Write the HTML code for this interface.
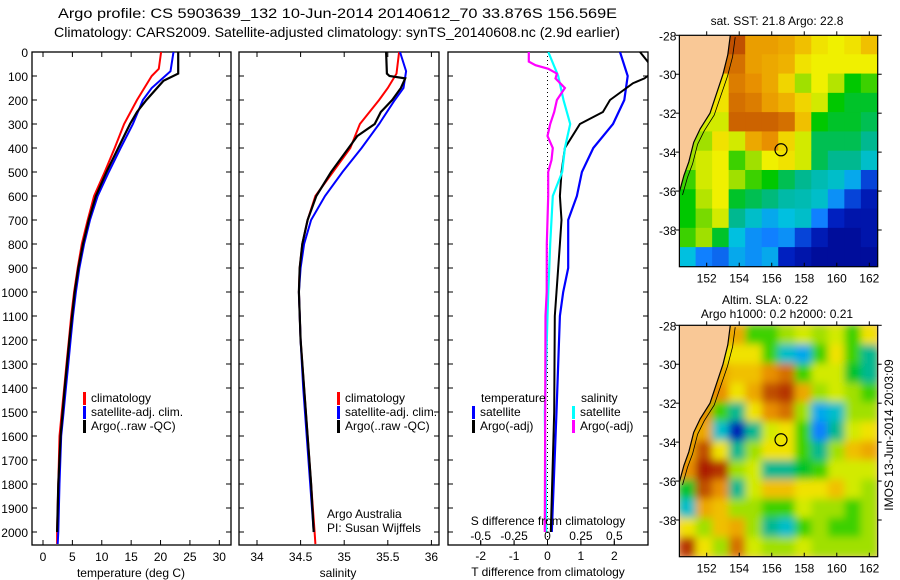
<!DOCTYPE html>
<html><head><meta charset="utf-8"><style>
html,body{margin:0;padding:0;background:#fff;}
svg{display:block;font-family:"Liberation Sans",sans-serif;}
</style></head><body>
<svg id="fig" width="900" height="580" viewBox="0 0 900 580">
<defs>
<clipPath id="c1"><rect x="32" y="52" width="199" height="493"/></clipPath>
<clipPath id="c2"><rect x="239" y="52" width="200" height="493"/></clipPath>
<clipPath id="c3"><rect x="448" y="52" width="200" height="493"/></clipPath>
<clipPath id="cm1"><rect x="680" y="35" width="198" height="232"/></clipPath>
<clipPath id="cm2"><rect x="680" y="325" width="198" height="232"/></clipPath>
<filter id="bl"><feGaussianBlur stdDeviation="4"/></filter>
</defs>
<text x="58" y="18" font-size="14" textLength="559" lengthAdjust="spacingAndGlyphs">Argo profile: CS 5903639_132 10-Jun-2014 20140612_70 33.876S 156.569E</text>
<text x="54" y="37" font-size="14" textLength="566" lengthAdjust="spacingAndGlyphs">Climatology: CARS2009. Satellite-adjusted climatology: synTS_20140608.nc (2.9d earlier)</text>
<g id="g1"></g>
<g id="g2"></g>
<g id="g3"></g>
<g id="m1"></g>
<g id="m2"></g>
<text transform="translate(893,435) rotate(-90)" text-anchor="middle" font-size="12">IMOS 13-Jun-2014 20:03:09</text>
</svg>
<script>
// ---- data ----
const depthTicks=[0,100,200,300,400,500,600,700,800,900,1000,1100,1200,1300,1400,1500,1600,1700,1800,1900,2000];
const tempTicks=[0,5,10,15,20,25,30];
const salTicks=[34,34.5,35,35.5,36];
const tdiffTicks=[-2,-1,0,1,2];
const sdiffTicks=[-0.5,-0.25,0,0.25,0.5];
const sdiffLabels=["-0.5","-0.25","0","0.25","0.5"];
const climTD=[0,70,100,200,300,400,500,600,700,800,900,1000,1100,1200,1300,1400,1500,1600,1800,2000,2050];
const climT=[20.1,19.7,18.5,16,13.8,12.2,10.5,8.7,7.6,6.6,5.9,5.3,4.8,4.4,4.0,3.6,3.2,2.8,2.6,2.4,2.4];
const satTD=[0,80,150,200,300,400,500,600,700,800,900,1000,1100,1200,1300,1400,1500,1600,1800,2000,2050];
const satT=[22.2,21.7,18.5,17,15.3,13.2,11.2,9.3,8,7,6.2,5.6,5.1,4.7,4.3,3.9,3.5,3.1,2.8,2.6,2.5];
const argoTD=[0,90,120,200,250,300,400,500,600,700,800,900,1000,1200,1400,1600,1800,2000];
const argoT=[23,23,20.5,17.6,16,14.8,12.8,10.8,9.0,7.8,6.8,6,5.4,4.5,3.7,3.0,2.6,2.4];
const climSD=[0,90,150,200,300,400,500,600,700,800,900,1000,1200,1400,1600,1800,2000,2050];
const climS=[35.63,35.6,35.5,35.4,35.18,35.07,34.87,34.67,34.58,34.52,34.49,34.48,34.5,34.54,34.58,34.62,34.66,34.67];
const satSD=[0,80,150,200,300,400,500,600,700,800,900,1000,1200,1400,1600,1800,2000];
const satS=[35.64,35.71,35.68,35.58,35.4,35.2,34.98,34.78,34.62,34.54,34.5,34.48,34.5,34.53,34.57,34.61,34.65];
const argoSD=[0,90,100,110,150,200,250,300,350,400,500,600,700,800,900,1000,1200,1400,1600,1800,2000];
const argoS=[35.48,35.49,35.52,35.7,35.65,35.55,35.42,35.35,35.15,35.05,34.85,34.68,34.58,34.52,34.49,34.48,34.5,34.54,34.58,34.62,34.65];
const dTsatD=[0,100,200,300,400,500,600,700,800,900,1000,1100,1500,2000];
const dTsat=[2.17,2.4,2.3,1.96,1.37,1.03,0.88,0.62,0.62,0.62,0.47,0.37,0.27,0.13];
const dTargoD=[0,40,80,110,130,200,250,300,400,500,600,700,800,900,1000,1100,1500,2000];
const dTargo=[2.77,3.0,3.2,2.9,2.56,1.87,1.66,0.97,0.52,0.42,0.37,0.42,0.37,0.32,0.27,0.22,0.2,0.1];
const dSsatD=[0,100,200,300,400,500,600,800,1000,1100,1500,2000];
const dSsat=[0.006,0.08,0.12,0.17,0.13,0.11,0.04,0.02,0.006,0,-0.02,-0.01];
const dSargoD=[0,40,55,70,90,110,150,200,250,300,350,400,450,500,600,700,800,1000,1100,2000];
const dSargo=[-0.14,-0.14,-0.09,0.006,0.07,0.06,0.13,0.07,0.05,0.02,0.0,0.04,0.03,0.005,0.005,0,-0.005,-0.006,-0.015,-0.02];
const lonTicks=[152,154,156,158,160,162];
const latTicks=[-28,-30,-32,-34,-36,-38];
const sstGrid=[
[-1,-1,-1,0.85,0.72,0.72,0.7,0.65,0.6,0.58,0.6,0.65],
[-1,-1,-1,0.8,0.72,0.7,0.68,0.6,0.58,0.58,0.58,0.58],
[-1,-1,0.6,0.78,0.75,0.7,0.62,0.5,0.58,0.52,0.42,0.45],
[-1,-1,0.6,0.8,0.78,0.72,0.68,0.62,0.55,0.42,0.4,0.4],
[-1,0.55,0.55,0.82,0.82,0.82,0.8,0.65,0.42,0.4,0.4,0.38],
[-1,0.5,0.6,0.55,0.7,0.75,0.62,0.55,0.38,0.38,0.38,0.35],
[0.5,0.55,0.58,0.45,0.5,0.58,0.6,0.55,0.38,0.35,0.35,0.3],
[0.45,0.55,0.58,0.5,0.45,0.42,0.38,0.35,0.32,0.3,0.25,0.15],
[0.42,0.52,0.58,0.4,0.38,0.36,0.33,0.32,0.3,0.22,0.15,0.1],
[0.42,0.48,0.55,0.35,0.3,0.25,0.28,0.3,0.2,0.12,0.08,0.08],
[0.45,0.5,0.4,0.28,0.22,0.2,0.22,0.15,0.1,0.05,0.05,0.08],
[0.28,0.2,0.18,0.25,0.22,0.25,0.12,0.08,0.05,0.05,0.05,0.05]];
const slaGrid=[
[-1,-1,-1,0.7,0.45,0.45,0.5,0.55,0.5,0.55,0.45,0.6],
[-1,-1,-1,0.6,0.6,0.45,0.3,0.25,0.45,0.6,0.45,0.35],
[-1,-1,0.7,0.65,0.65,0.75,0.8,0.45,0.55,0.55,0.4,0.35],
[-1,-1,0.75,0.6,0.7,0.85,0.9,0.7,0.5,0.55,0.5,0.45],
[-1,0.75,0.45,0.35,0.6,0.75,0.8,0.5,0.25,0.3,0.5,0.5],
[-1,0.7,0.3,0.1,0.35,0.55,0.6,0.45,0.2,0.35,0.55,0.6],
[0.7,0.85,0.6,0.35,0.5,0.6,0.6,0.45,0.35,0.5,0.65,0.7],
[0.75,0.95,0.9,0.5,0.55,0.35,0.35,0.4,0.45,0.55,0.55,0.55],
[0.4,0.85,0.75,0.35,0.55,0.65,0.65,0.6,0.6,0.65,0.55,0.5],
[0.3,0.7,0.65,0.5,0.5,0.45,0.45,0.55,0.5,0.5,0.45,0.5],
[0.6,0.5,0.65,0.7,0.5,0.35,0.3,0.45,0.5,0.45,0.45,0.5],
[0.9,0.6,0.5,0.8,0.55,0.5,0.5,0.55,0.5,0.5,0.5,0.5]];
const coastLon=[153.45,153.3,153.0,152.6,152.2,151.6,151.2,150.9,150.6,150.3];
const coastLat=[-28,-29,-30,-31,-32,-32.8,-33.5,-34.5,-35.2,-36.1];
const argoLon=156.57, argoLat=-33.88;

// ---- helpers ----
const NS='http://www.w3.org/2000/svg';
function mk(parent,tag,attrs){const e=document.createElementNS(NS,tag);for(const k in attrs)e.setAttribute(k,attrs[k]);parent.appendChild(e);return e;}
const yD=d=>52+d*0.24;
const xT=t=>43+t*5.877;
const xS=s=>257+(s-34)*87.2;
const xDT=t=>547.5+t*33.4;
const xDS=s=>547.5+s*133.6;

function panelFrame(g,x0,w){
  const r=mk(g,'rect',{x:x0,y:52,width:w,height:493,fill:'none',stroke:'#000','stroke-width':1.3});
  
  
  depthTicks.forEach(d=>{
    const t=mk(g,'line',{x1:x0,x2:x0+5,y1:yD(d),y2:yD(d),stroke:'#000'});
    
    
    mk(g,'line',{x1:x0+w-5,x2:x0+w,y1:yD(d),y2:yD(d),stroke:'#000'});
  });
}
function line(g,xs,ds,fx,color,width,name,clip){
  const pts=xs.map((v,i)=>fx(v).toFixed(1)+','+yD(ds[i]).toFixed(1)).join(' ');
  const p=mk(g,'polyline',{points:pts,fill:'none',stroke:color,'stroke-width':width,'clip-path':'url(#'+clip+')'});
  
  
}
function txt(g,x,y,s,size,anchor,name){
  const t=mk(g,'text',{x:x,y:y,'font-size':size,'text-anchor':anchor||'start'});
  t.textContent=s;
  
  
  return t;
}
function legend(g,x,y,color,label){
  const m=mk(g,'rect',{x:x,y:y-10,width:3,height:13,fill:color});
  
  
  txt(g,x+8,y,label,12,'start','legend-entry');
}

// ---- panel 1: temperature ----
const g1=document.getElementById('g1');
panelFrame(g1,32,199);
depthTicks.forEach(d=>txt(g1,28,yD(d)+5,String(d),12,'end','depth-label'));
tempTicks.forEach(t=>{mk(g1,'line',{x1:xT(t),x2:xT(t),y1:545,y2:540,stroke:'#000'});mk(g1,'line',{x1:xT(t),x2:xT(t),y1:52,y2:57,stroke:'#000'});txt(g1,xT(t),561,String(t),12,'middle','temperature-tick-label');});
txt(g1,131,577,'temperature (deg C)',12,'middle','x-axis-title-temperature');
line(g1,climT,climTD,xT,'#f00',2,'climatology-temperature','c1');
line(g1,satT,satTD,xT,'#00f',2,'satellite-temperature','c1');
line(g1,argoT,argoTD,xT,'#000',2.2,'argo-temperature','c1');
legend(g1,83,402,'#f00','climatology');
legend(g1,83,416,'#00f','satellite-adj. clim.');
legend(g1,83,430,'#000','Argo(..raw -QC)');

// ---- panel 2: salinity ----
const g2=document.getElementById('g2');
panelFrame(g2,239,200);
salTicks.forEach(s=>{mk(g2,'line',{x1:xS(s),x2:xS(s),y1:545,y2:540,stroke:'#000'});mk(g2,'line',{x1:xS(s),x2:xS(s),y1:52,y2:57,stroke:'#000'});txt(g2,xS(s),561,String(s),12,'middle','salinity-tick-label');});
txt(g2,338,577,'salinity',12,'middle','x-axis-title-salinity');
line(g2,climS,climSD,xS,'#f00',2,'climatology-salinity','c2');
line(g2,satS,satSD,xS,'#00f',2,'satellite-salinity','c2');
line(g2,argoS,argoSD,xS,'#000',2.2,'argo-salinity','c2');
legend(g2,337,402,'#f00','climatology');
legend(g2,337,416,'#00f','satellite-adj. clim.');
legend(g2,337,430,'#000','Argo(..raw -QC)');
txt(g2,327,518,'Argo Australia',12,'start','credit-argo-australia');
txt(g2,327,532,'PI: Susan Wijffels',12,'start','credit-pi');

// ---- panel 3: differences ----
const g3=document.getElementById('g3');
panelFrame(g3,448,200);
const z=mk(g3,'line',{x1:xDT(0),x2:xDT(0),y1:52,y2:545,stroke:'#000','stroke-dasharray':'1,3'});


line(g3,dTsat,dTsatD,xDT,'#00f',2.2,'satellite-temperature-difference','c3');
line(g3,dTargo,dTargoD,xDT,'#000',2,'argo-temperature-difference','c3');
line(g3,dSsat,dSsatD,xDS,'#0ff',2.2,'satellite-salinity-difference','c3');
line(g3,dSargo,dSargoD,xDS,'#f0f',2.2,'argo-salinity-difference','c3');
tdiffTicks.forEach(t=>{mk(g3,'line',{x1:xDT(t),x2:xDT(t),y1:545,y2:540,stroke:'#000'});txt(g3,xDT(t),560,String(t),12,'middle','t-diff-tick-label');});
sdiffTicks.forEach((s,i)=>{mk(g3,'line',{x1:xDS(s),x2:xDS(s),y1:545,y2:541,stroke:'#000'});txt(g3,xDS(s),540,sdiffLabels[i],12,'middle','s-diff-tick-label');});
txt(g3,548,525,'S difference from climatology',12,'middle','s-diff-axis-title');
txt(g3,548,576,'T difference from climatology',12,'middle','t-diff-axis-title');
txt(g3,481,402,'temperature',12,'start','legend-title-temperature');
txt(g3,581,402,'salinity',12,'start','legend-title-salinity');
legend(g3,472,416,'#00f','satellite');
legend(g3,472,430,'#000','Argo(-adj)');
legend(g3,572,416,'#0ff','satellite');
legend(g3,572,430,'#f0f','Argo(-adj)');

// ---- maps ----
const stops=[[0,[0,0,128]],[0.12,[0,32,192]],[0.2,[16,128,255]],[0.28,[0,192,224]],[0.35,[0,184,144]],[0.42,[0,200,0]],[0.5,[160,224,0]],[0.58,[240,240,0]],[0.65,[240,192,0]],[0.75,[232,144,0]],[0.85,[192,80,0]],[1,[160,0,0]]];
function cmap(v){for(let i=1;i<stops.length;i++){if(v<=stops[i][0]){const a=stops[i-1],b=stops[i],f=(v-a[0])/(b[0]-a[0]);const c=a[1].map((x,k)=>Math.round(x+(b[1][k]-x)*f));return 'rgb('+c.join(',')+')';}}return 'rgb(160,0,0)';}
function drawMap(id,top,grid,blur,clip){
  const g=document.getElementById(id);
  const lonX=l=>706.7+(l-152)*16.26;
  const latY=l=>top+(-28-l)*19.47;
  const L=lonX(150.32),R=877.7,T=top,B=top+231.4;
  mk(g,'rect',{x:L,y:T,width:R-L,height:B-T,fill:'#f9c896'});
  const cells=mk(g,'g',{'clip-path':'url(#'+clip+')'});
  const inner=mk(cells,'g',blur?{filter:'url(#bl)'}:{});
  const cw=(R-L)/12, ch=(B-T)/12;
  grid.forEach((row,r)=>row.forEach((v,c)=>{
    let vv=v; if(v<0){ vv=row.find(x=>x>=0); }
    const cell=mk(inner,'rect',{x:L+c*cw-0.3,y:T+r*ch-0.3,width:cw+0.6,height:ch+0.6,fill:cmap(vv)});
    
    
  }));
  let pts=coastLon.map((l,i)=>lonX(l).toFixed(1)+','+latY(coastLat[i]).toFixed(1)).join(' ');
  const land=mk(g,'polygon',{points:L+','+T+' '+pts+' '+L+','+latY(-36.1),fill:'#f9c896','clip-path':'url(#'+clip+')'});
  
  
  const cl=mk(g,'polyline',{points:pts,fill:'none',stroke:'#000','stroke-width':1.2,'clip-path':'url(#'+clip+')'});
  
  
  const iso=coastLon.map((l,i)=>lonX(l+0.3-i*0.01).toFixed(1)+','+latY(coastLat[i]-0.1).toFixed(1)).join(' ');
  mk(g,'polyline',{points:iso,fill:'none',stroke:'#000','stroke-width':0.8,'clip-path':'url(#'+clip+')'});
  const c=mk(g,'circle',{cx:lonX(argoLon),cy:latY(argoLat),r:6,fill:'none',stroke:'#000','stroke-width':1.2});
  
  
  mk(g,'rect',{x:L,y:T,width:R-L,height:B-T,fill:'none',stroke:'#000','stroke-width':1.2});
  lonTicks.forEach(l=>{mk(g,'line',{x1:lonX(l),x2:lonX(l),y1:B,y2:B-4,stroke:'#000'});mk(g,'line',{x1:lonX(l),x2:lonX(l),y1:T,y2:T-4,stroke:'#000'});txt(g,lonX(l),B+16,String(l),12,'middle','longitude-label');});
  latTicks.forEach(l=>{mk(g,'line',{x1:L,x2:L-4,y1:latY(l),y2:latY(l),stroke:'#000'});mk(g,'line',{x1:R,x2:R+4,y1:latY(l),y2:latY(l),stroke:'#000'});txt(g,L-3,latY(l)+5,String(l),12,'end','latitude-label');});
}
drawMap('m1',35.3,sstGrid,false,'cm1');
drawMap('m2',325.3,slaGrid,true,'cm2');
const m1=document.getElementById('m1'), m2=document.getElementById('m2');
txt(m1,777,25,'sat. SST: 21.8 Argo: 22.8',12,'middle','sst-map-title');
txt(m2,765,304,'Altim. SLA: 0.22',12,'middle','sla-map-title');
txt(m2,777,318,'Argo h1000: 0.2 h2000: 0.21',12,'middle','sla-map-subtitle');
</script>
</body></html>
